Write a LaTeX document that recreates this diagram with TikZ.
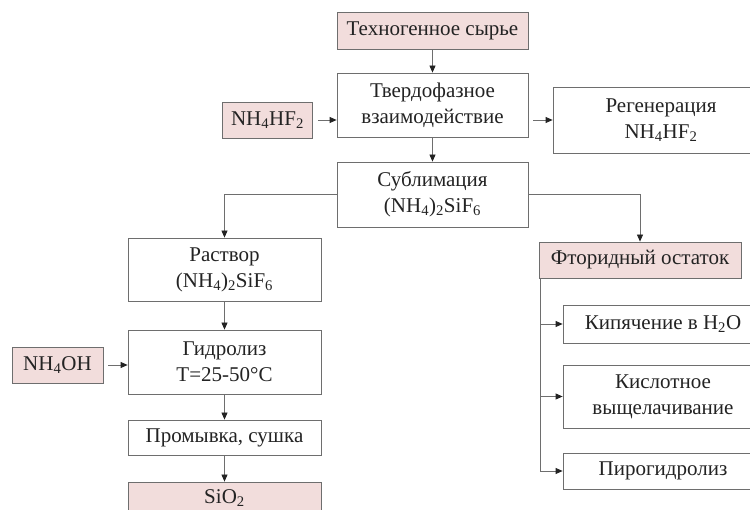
\documentclass[tikz,border=0pt]{standalone}
\usepackage{fontspec}
\setmainfont{Liberation Serif}
\usetikzlibrary{arrows.meta}
\definecolor{feedfill}{RGB}{242,221,220}
\definecolor{edge}{RGB}{110,110,110}
\definecolor{ink}{RGB}{35,35,35}

\begin{document}
\begin{tikzpicture}[x=1pt, y=-1pt,
  every node/.style={font=\fontsize{21}{26}\selectfont, text=ink},
  box/.style={draw=edge, fill=white, thick, align=center, inner sep=1pt, minimum width=191pt},
  feed/.style={box, fill=feedfill},
  arr/.style={draw=edge, thick, -{Triangle[length=7pt, width=6pt, color=ink]}}]
  \useasboundingbox (0,0) rectangle (750,510);
  \clip (0,0) rectangle (750,510);

  % Main column
  \node[feed, minimum height=37pt] (raw) at (432.5, 30.5) {Техногенное сырье};
  \node[box, minimum height=64pt] (solid) at (432.5, 105) {Твердофазное\\взаимодействие};
  \node[feed, minimum width=90pt, minimum height=36pt] (nhf) at (267.5, 120) {NH\textsubscript{4}HF\textsubscript{2}};
  \node[box, minimum width=216pt, minimum height=66pt] (regen) at (661, 120) {Регенерация\\NH\textsubscript{4}HF\textsubscript{2}};
  \node[box, minimum height=65pt] (subl) at (432.5, 194.5) {Сублимация\\(NH\textsubscript{4})\textsubscript{2}SiF\textsubscript{6}};

  % Left branch
  \node[box, minimum width=193pt, minimum height=63pt] (sol) at (224.5, 269.5) {Раствор\\(NH\textsubscript{4})\textsubscript{2}SiF\textsubscript{6}};
  \node[box, minimum width=193pt, minimum height=64pt] (hydro) at (224.5, 362) {Гидролиз\\T=25-50°C};
  \node[feed, minimum width=91pt, minimum height=36pt] (nhoh) at (57.5, 365) {NH\textsubscript{4}OH};
  \node[box, minimum width=193pt, minimum height=35pt] (wash) at (224.5, 437.5) {Промывка, сушка};
  \node[feed, minimum width=193pt, minimum height=32pt] (sio) at (224.5, 498) {SiO\textsubscript{2}};

  % Right branch
  \node[feed, minimum width=202pt, minimum height=36pt] (fluor) at (640, 260) {Фторидный остаток};
  \node[box, minimum width=200pt, minimum height=38pt] (boil) at (663, 324) {Кипячение в H\textsubscript{2}O};
  \node[box, minimum width=200pt, minimum height=63pt] (acid) at (663, 396.5) {Кислотное\\выщелачивание};
  \node[box, minimum width=200pt, minimum height=36pt] (pyro) at (663, 471) {Пирогидролиз};

  % Connectors
  \draw[arr] (raw) -- (solid);
  \draw[arr, shorten <=5pt] (nhf.east) -- (nhf.east -| solid.west);
  \draw[arr, shorten <=5pt] (regen.west -| solid.east) -- (regen.west);
  \draw[arr] (solid) -- (subl);
  \draw[arr] (subl.west) -| (sol.north);
  \draw[arr] (subl.east) -| (fluor.north);
  \draw[arr] (sol) -- (hydro);
  \draw[arr, shorten <=5pt] (nhoh.east) -- (nhoh.east -| hydro.west);
  \draw[arr] (hydro) -- (wash);
  \draw[arr] (wash) -- (sio);

  \coordinate (trunk) at ([xshift=2pt]fluor.south west);
  \draw[arr] (trunk) |- (pyro.west);
  \draw[arr] (trunk |- boil.west) -- (boil.west);
  \draw[arr] (trunk |- acid.west) -- (acid.west);
\end{tikzpicture}
\end{document}
